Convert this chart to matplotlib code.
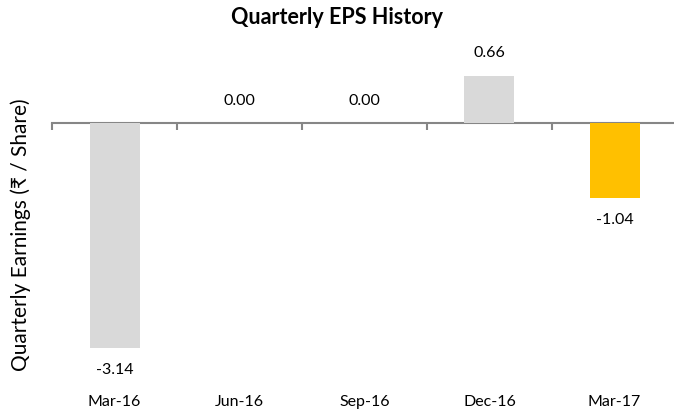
import matplotlib.pyplot as plt
import numpy as np

quarters = ["Mar-16", "Jun-16", "Sep-16", "Dec-16", "Mar-17"]
eps = [-3.14, 0.00, 0.00, 0.66, -1.04]
bar_colors = ["#D9D9D9", "#D9D9D9", "#D9D9D9", "#D9D9D9", "#FFC000"]

plt.rcParams['font.family'] = ['Lato', 'DejaVu Sans']

W, H = 674, 412
fig = plt.figure(figsize=(W / 100, H / 100), dpi=100)
# axes placed in pixels: left 52, right 677, top 40, bottom 385
left, right, top, bottom = 52, 677, 40, 385
ax = fig.add_axes([left / W, 1 - bottom / H, (right - left) / W, (bottom - top) / H])

x = np.arange(len(quarters))
ax.bar(x, eps, width=0.4, color=bar_colors)

# y scale: zero line at pixel 123, 71.7 px per unit
zero_px, ppu = 123, 71.7
ax.set_ylim(-(bottom - zero_px) / ppu, (zero_px - top) / ppu)
ax.set_xlim(-0.5, len(quarters) - 0.5)

for xi, v in zip(x, eps):
    off = 16 if v >= 0 else -16
    ax.annotate(f"{v:.2f}", (xi, v), xytext=(0, off), textcoords="offset points",
                ha="center", va="center", fontsize=11.5)

for s in ax.spines.values():
    s.set_visible(False)
ax.set_yticks([])
ax.set_xticks(x)
ax.set_xticklabels(quarters, fontsize=11.5)
ax.tick_params(axis="x", length=0, pad=7)

# zero axis with boundary ticks
sec = ax.secondary_xaxis(0, transform=ax.transData)
sec.set_xticks(np.arange(len(quarters) + 1) - 0.5)
sec.set_xticklabels([])
sec.tick_params(axis="x", length=5, width=1.5, color="#868686", direction="out")
sec.spines["bottom"].set_color("#868686")
sec.spines["bottom"].set_linewidth(1.5)

ax.set_ylabel("Quarterly Earnings (₹ / Share)", fontsize=15)
ax.yaxis.set_label_coords(-0.034, 0.435)

fig.suptitle("Quarterly EPS History", fontsize=15.5, fontweight="bold", y=1 - 18 / H, va="center")

fig.savefig("out.png", dpi=100)
